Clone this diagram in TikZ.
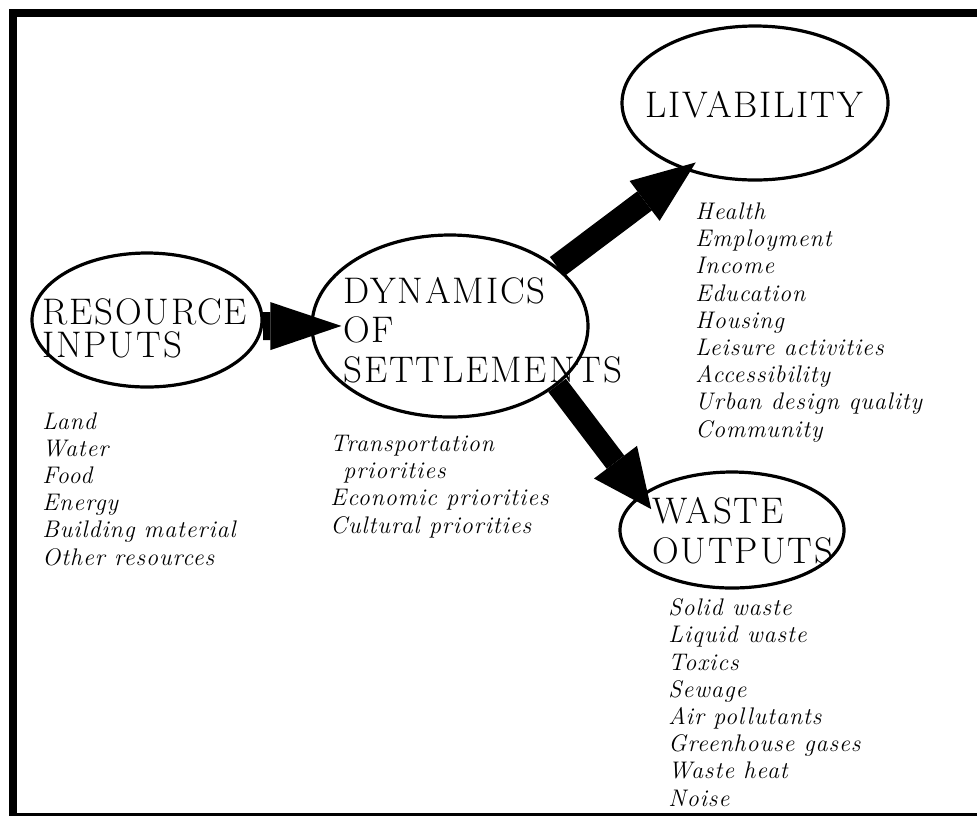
\documentclass[tikz,border=0pt]{standalone}
\usepackage{fontspec}
\setmainfont{Latin Modern Roman}
\usepackage{tikz}
\usetikzlibrary{shapes.geometric}
\usetikzlibrary{arrows.meta}

\begin{document}
\begin{tikzpicture}[x=0.5pt,y=-0.5pt,
    oval/.style={ellipse,draw,line width=1.6pt,inner sep=0pt},
    heading/.style={font=\fontsize{18.5}{#1}\selectfont\addfontfeatures{LetterSpace=5},align=left,inner sep=0pt,anchor=base west},
    items/.style={font=\fontsize{12}{13.6}\selectfont\itshape\addfontfeatures{LetterSpace=4},align=left,inner sep=0pt,anchor=base west},
    fatarrow/.style n args={4}{line width=#1,shorten >=#2,
      -{Triangle[length=#3,width=#4,line width=0pt]}}]
  \useasboundingbox (0,0) rectangle (977,816);
  \draw[line width=4pt] (9,13) -- (977,13);
  \draw[line width=4pt] (13,9) -- (13,816);
  \draw[line width=1.2pt] (13,814.5) -- (977,814.5);

  \node[oval,minimum width=115pt,minimum height=67pt] (res) at (147,320) {};
  \node[oval,minimum width=138pt,minimum height=91pt] (dyn) at (450,326) {};
  \node[oval,minimum width=133pt,minimum height=77pt] (liv) at (755,103) {};
  \node[oval,minimum width=112pt,minimum height=58pt] (wst) at (732,530) {};

  \node[heading=16.5pt] (restxt) at (42,357) {RESOURCE\\INPUTS};
  \node[heading=19.75pt] (dyntxt) at (343,382) {DYNAMICS\\OF\\SETTLEMENTS};
  \node[heading=15pt] (livtxt) at (645,117) {LIVABILITY};
  \node[heading=20pt] (wsttxt) at (652,563) {WASTE\\OUTPUTS};

  \node[items] (reslist) at (42,565) {Land\\Water\\Food\\Energy\\Building material\\Other resources};
  \node[items] (dynlist) at (330,533) {Transportation\\\hspace*{6.5pt}priorities\\Economic priorities\\Cultural priorities};
  \node[items] (livlist) at (695,437) {Health\\Employment\\Income\\Education\\Housing\\Leisure activities\\Accessibility\\Urban design quality\\Community};
  \node[items] (wstlist) at (668,806) {Solid waste\\Liquid waste\\Toxics\\Sewage\\Air pollutants\\Greenhouse gases\\Waste heat\\Noise};

  \path
    (res.-3) edge[fatarrow={14pt}{-15.5pt}{35.5pt}{24pt}] (dyn.180)
    (dyn.29) edge[fatarrow={12pt}{-6.5pt}{32pt}{25pt}] (liv.-136)
    (dyn.-29) edge[fatarrow={11pt}{-9pt}{29.5pt}{27pt}] (wst.159);
\end{tikzpicture}
\end{document}
